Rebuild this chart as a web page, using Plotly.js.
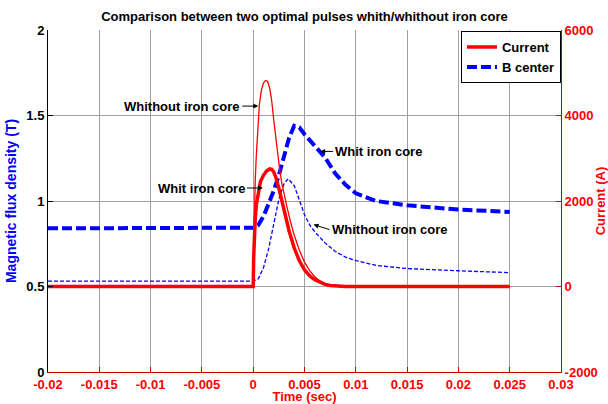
<!DOCTYPE html>
<html>
<head>
<meta charset="utf-8">
<script src="https://cdn.plot.ly/plotly-3.0.1.min.js"></script>
<style>html,body{margin:0;padding:0;background:#fff}#chart{width:608px;height:404px}</style>
</head>
<body>
<div id="chart"></div>
<script>
// Current with iron core (A)
const tCurWith = [-0.02,-0.015,-0.01,-0.005,0,0.00005,0.0001,0.0002,0.0003,0.0005,0.0007,0.001,0.0013,0.0016,0.0018,0.002,0.0022,0.0025,0.003,0.0035,0.004,0.0045,0.005,0.0055,0.006,0.0065,0.007,0.0075,0.008,0.009,0.012,0.015,0.02,0.025];
const curWith  = [0,0,0,0,0,700,1200,1600,1900,2250,2450,2600,2700,2750,2740,2680,2560,2300,1800,1300,900,600,390,250,160,95,50,25,10,0,0,0,0,0];
// Current without iron core (A)
const tCurWithout = [-0.02,-0.015,-0.01,-0.005,0,0.00005,0.0001,0.0002,0.0003,0.0004,0.0005,0.0006,0.0008,0.001,0.0012,0.0014,0.0016,0.0018,0.002,0.0022,0.0024,0.0026,0.0028,0.003,0.0033,0.0036,0.004,0.0045,0.005,0.0055,0.006,0.0065,0.007,0.0075,0.0085,0.012,0.015,0.02,0.025];
const curWithout  = [0,0,0,0,0,900,1800,2500,3050,3550,3950,4250,4600,4760,4820,4800,4650,4350,3900,3450,3050,2700,2400,2150,1850,1550,1200,850,570,370,230,130,65,25,0,0,0,0,0];
// B center with iron core (T)
const tBWith = [-0.02,-0.015,-0.01,-0.005,0,0.0005,0.001,0.0015,0.002,0.0025,0.003,0.0035,0.004,0.0045,0.005,0.006,0.007,0.008,0.009,0.01,0.012,0.015,0.02,0.025];
const bWith  = [0.84,0.842,0.845,0.843,0.843,0.86,0.91,0.98,1.06,1.15,1.26,1.37,1.44,1.43,1.39,1.32,1.255,1.16,1.095,1.045,1.0,0.975,0.95,0.936];
// B center without iron core (T)
const tBWithout = [-0.02,-0.015,-0.01,-0.005,0,0.0005,0.001,0.0015,0.002,0.0025,0.003,0.0034,0.004,0.0045,0.005,0.0055,0.006,0.007,0.008,0.009,0.01,0.012,0.015,0.02,0.025];
const bWithout  = [0.531,0.531,0.531,0.531,0.531,0.545,0.61,0.72,0.87,1.01,1.1,1.13,1.09,1.01,0.92,0.86,0.82,0.755,0.705,0.672,0.652,0.623,0.605,0.592,0.581];

const xTickVals = [-0.02,-0.015,-0.01,-0.005,0,0.005,0.01,0.015,0.02,0.025,0.03];
const xTickText = ['-0.02','-0.015','-0.01','-0.005','0','0.005','0.01','0.015','0.02','0.025','0.03'];
const yTickVals = [0,0.5,1,1.5,2];
const yTickText = ['0','0.5','1','1.5','2'];
const y2TickVals = [-2000,0,2000,4000,6000];
const y2TickText = ['-2000','0','2000','4000','6000'];

const FONT = 'Liberation Sans, Arial, sans-serif';
const RED = '#ff0000', DRED = '#c00000', BLUE = '#0000ff', GRID = '#a0a0a0';
const bf = (size, color) => ({family: FONT, size: size, color: color, weight: 'bold'});

const traces = [
  {x: tBWithout, y: bWithout, yaxis: 'y', type: 'scatter', mode: 'lines', showlegend: false,
   line: {color: BLUE, width: 1.3, dash: '4px,2px'}},
  {x: tBWith, y: bWith, yaxis: 'y', type: 'scatter', mode: 'lines', name: 'B center', legendrank: 2,
   line: {color: BLUE, width: 4, dash: '10px,4px'}},
  {x: tCurWithout, y: curWithout, yaxis: 'y2', type: 'scatter', mode: 'lines', showlegend: false,
   line: {color: RED, width: 1.3}},
  {x: tCurWith, y: curWith, yaxis: 'y2', type: 'scatter', mode: 'lines', name: 'Current', legendrank: 1,
   line: {color: RED, width: 3.5}}
];

const arrowAnn = (x, y, text, ax, ay, anchor) => ({
  x: x, y: y, xref: 'x', yref: 'y', text: text, showarrow: true, ax: ax, ay: ay, xanchor: anchor,
  arrowhead: 2, arrowsize: 1, arrowwidth: 1, arrowcolor: '#000', font: bf(13, '#000')
});

const layout = {
  width: 608, height: 404,
  margin: {l: 48, r: 47, t: 30, b: 32},
  paper_bgcolor: '#ffffff', plot_bgcolor: '#ffffff',
  font: {family: FONT},
  title: {text: 'Comparison between two optimal pulses whith/whithout iron core',
          font: bf(13, '#000'), x: 0.5, xref: 'paper', y: 0.96, yref: 'container', yanchor: 'middle'},
  xaxis: {range: [-0.02, 0.03], tickvals: xTickVals, ticktext: xTickText, ticks: 'inside', ticklen: 5,
          tickcolor: DRED, showline: true, linecolor: DRED, linewidth: 1, showgrid: true, gridcolor: GRID,
          gridwidth: 1, zeroline: false, tickfont: bf(13, RED), automargin: false,
          title: {text: 'Time (sec)', font: bf(13, RED), standoff: 3}},
  xaxis2: {range: [-0.02, 0.03], overlaying: 'x', side: 'top', anchor: 'y', tickvals: xTickVals,
           ticks: 'inside', ticklen: 4, tickcolor: '#000', showline: true, linecolor: '#000', linewidth: 1,
           showticklabels: false, showgrid: false, zeroline: false},
  yaxis: {range: [0, 2], tickvals: yTickVals, ticktext: yTickText, ticks: 'inside', ticklen: 5,
          tickcolor: '#000', showline: true, linecolor: '#000', linewidth: 1, showgrid: true, gridcolor: GRID,
          zeroline: false, tickfont: bf(13, '#000'), automargin: false,
          title: {text: 'Magnetic flux density (T)', font: bf(14, BLUE), standoff: 6}},
  yaxis2: {range: [-2000, 6000], overlaying: 'y', side: 'right', anchor: 'x', tickvals: y2TickVals,
           ticktext: y2TickText, ticks: 'inside', ticklen: 5, tickcolor: DRED, showline: true, linecolor: DRED,
           linewidth: 1, showgrid: false, zeroline: false, tickfont: bf(13, RED), automargin: false,
           title: {text: 'Current (A)', font: bf(13, RED), standoff: 9}},
  legend: {x: 0.805, y: 0.997, xanchor: 'left', yanchor: 'top', bgcolor: '#ffffff', bordercolor: '#000',
           borderwidth: 1, font: bf(13, '#000'), tracegroupgap: 0},
  annotations: [
    arrowAnn(0.0005, 1.555, 'Whithout iron core', -16, 0, 'right'),
    arrowAnn(0.00095, 1.076, 'Whit iron core', -16, 0, 'right'),
    arrowAnn(0.00653, 1.29, 'Whit iron core', 13, 0, 'left'),
    arrowAnn(0.00588, 0.862, 'Whithout iron core', 16, 5, 'left')
  ]
};

Plotly.newPlot('chart', traces, layout, {staticPlot: true, displayModeBar: false});
</script>
</body>
</html>
